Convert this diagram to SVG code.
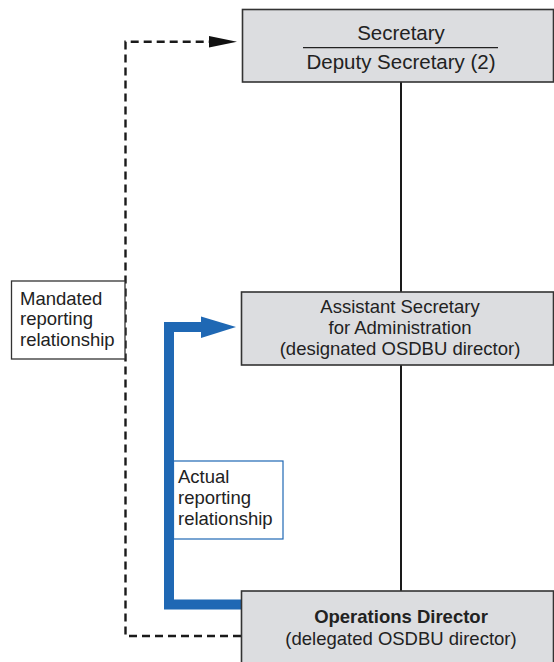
<svg xmlns="http://www.w3.org/2000/svg" width="554" height="662" viewBox="0 0 554 662">
<defs>
<style>
.box{fill:#dcdde0;stroke:#333;stroke-width:1.6}
.t{font-family:"Liberation Sans",Arial,sans-serif;font-size:18.5px;fill:#222}
.tc{text-anchor:middle}
.dash{fill:none;stroke:#1a1a1a;stroke-width:2.4;stroke-dasharray:8,5}
.solid{fill:none;stroke:#1a1a1a;stroke-width:2}
.blue{fill:none;stroke:#1f68b4;stroke-width:10;stroke-linejoin:miter}
</style>
</defs>
<rect width="554" height="662" fill="#fff"/>
<g id="connectors">
<line class="solid" x1="401" y1="82" x2="401" y2="292"/>
<line class="solid" x1="401" y1="365" x2="401" y2="591"/>
<polyline class="dash" points="241,636 125.5,636 125.5,41.7 212,41.7"/>
<polygon points="209,36 237,41.7 209,47.4" fill="#111"/>
<polyline class="blue" points="243,604.5 169,604.5 169,327 204,327"/>
<polygon points="201,316.5 236,327 201,338" fill="#1f68b4"/>
</g>
<g id="secretary">
<rect class="box" x="242.5" y="9.5" width="311" height="72.5"/>
<text class="t tc" x="401" y="40" style="font-size:20.5px">Secretary</text>
<line x1="303" y1="47.7" x2="498" y2="47.7" stroke="#222" stroke-width="1.2"/>
<text class="t tc" x="401" y="69" style="font-size:20.5px">Deputy Secretary (2)</text>
</g>
<g id="assistant">
<rect class="box" x="241.5" y="292" width="312" height="73"/>
<text class="t tc" x="400" y="313">Assistant Secretary</text>
<text class="t tc" x="400" y="334">for Administration</text>
<text class="t tc" x="400" y="354.5">(designated OSDBU director)</text>
</g>
<g id="operations">
<rect class="box" x="241.5" y="591" width="312" height="80"/>
<text class="t tc" x="401" y="623" style="font-weight:bold">Operations Director</text>
<text class="t tc" x="401" y="645">(delegated OSDBU director)</text>
</g>
<g id="mandated">
<rect x="11.5" y="281" width="113.5" height="78" fill="#fff" stroke="#333" stroke-width="1.3"/>
<text class="t" x="20" y="305">Mandated</text>
<text class="t" x="20" y="325">reporting</text>
<text class="t" x="20" y="345.5">relationship</text>
</g>
<g id="actual">
<rect x="173.5" y="461" width="109.5" height="78" fill="#fff" stroke="#1f68b4" stroke-width="1.2"/>
<text class="t" x="178" y="483">Actual</text>
<text class="t" x="178" y="504">reporting</text>
<text class="t" x="178" y="525">relationship</text>
</g>
</svg>
